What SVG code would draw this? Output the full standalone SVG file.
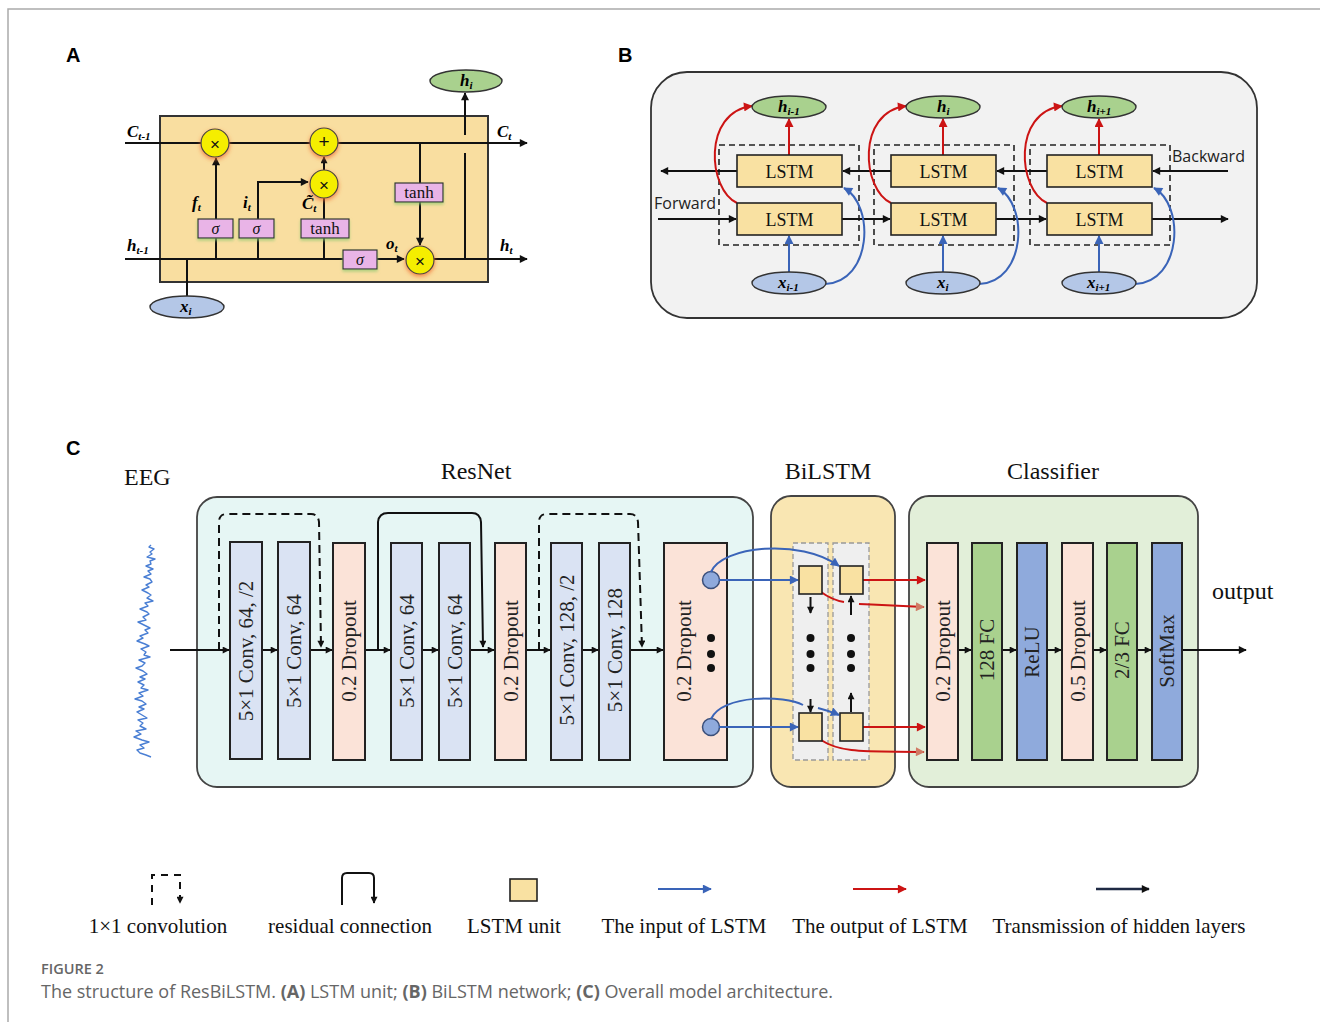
<svg xmlns="http://www.w3.org/2000/svg" width="1320" height="1025" viewBox="0 0 1320 1025">
<defs>
<style>
.lbl{font-family:"Liberation Sans",Arial,sans-serif;font-weight:bold;font-size:20px;fill:#000}
.bi{font-family:"Liberation Serif","Times New Roman",serif;font-weight:bold;font-style:italic;font-size:17px;fill:#000}
.ser{font-family:"Liberation Serif","Times New Roman",serif;fill:#111}
.cen{text-anchor:middle;dominant-baseline:central}
.ln{fill:none;stroke:#111;stroke-width:2}
.red{fill:none;stroke:#cc1414;stroke-width:2}
.blue{fill:none;stroke:#3a64b8;stroke-width:2}
.pink{fill:#e9b4e7;stroke:#333;stroke-width:1.2}
.gate{fill:#f5ee05;stroke:#444;stroke-width:1.2}
.lstm{fill:#f9e1a2;stroke:#222;stroke-width:1.6}
.hell{fill:#a9d18e;stroke:#333;stroke-width:1.4}
.xell{fill:#b4c7e7;stroke:#333;stroke-width:1.4}
.dash{fill:none;stroke:#222;stroke-width:1.6;stroke-dasharray:6,4}
.col{stroke:#222;stroke-width:2}
.conv{fill:#dae3f3}
.drop{fill:#fbe3d8}
.fc{fill:#a9d18e}
.act{fill:#8faadc}
.ctx{font-family:"Liberation Serif","Times New Roman",serif;font-size:21px;fill:#222;text-anchor:middle;dominant-baseline:central}
.ttl{font-family:"Liberation Serif","Times New Roman",serif;font-size:24px;fill:#111}
.leg{font-family:"Liberation Serif","Times New Roman",serif;font-size:21px;fill:#111;text-anchor:middle}
.os{font-family:"Open Sans","Noto Sans",sans-serif;font-size:16px;fill:#222}
</style>
<marker id="ah" viewBox="0 0 10 10" refX="9" refY="5" markerWidth="9" markerHeight="8" markerUnits="userSpaceOnUse" orient="auto"><path d="M0,0 L10,5 L0,10 z" fill="#111"/></marker>
<marker id="ahs" viewBox="0 0 10 10" refX="9" refY="5" markerWidth="8" markerHeight="7" markerUnits="userSpaceOnUse" orient="auto"><path d="M0,0 L10,5 L0,10 z" fill="#111"/></marker>
<marker id="ahr" viewBox="0 0 10 10" refX="9" refY="5" markerWidth="10" markerHeight="9" markerUnits="userSpaceOnUse" orient="auto"><path d="M0,0 L10,5 L0,10 z" fill="#cc1414"/></marker>
<marker id="ahb" viewBox="0 0 10 10" refX="9" refY="5" markerWidth="10" markerHeight="9" markerUnits="userSpaceOnUse" orient="auto"><path d="M0,0 L10,5 L0,10 z" fill="#3a64b8"/></marker>
<marker id="ahp" viewBox="0 0 10 10" refX="9" refY="5" markerWidth="10" markerHeight="9" markerUnits="userSpaceOnUse" orient="auto"><path d="M0,0 L10,5 L0,10 z" fill="#d07a64"/></marker>
<filter id="glow" x="-50%" y="-50%" width="200%" height="200%"><feDropShadow dx="0" dy="2" stdDeviation="2" flood-color="#f07030" flood-opacity="0.8"/></filter>
<filter id="gsh" x="-30%" y="-50%" width="160%" height="200%"><feDropShadow dx="0" dy="2" stdDeviation="1.5" flood-color="#8cc870" flood-opacity="0.7"/></filter>
</defs>
<rect width="1320" height="1025" fill="#fff"/>
<path d="M8,1022 V9 H1320" fill="none" stroke="#aaa" stroke-width="1.5"/>

<!-- panel labels -->
<text class="lbl" x="66" y="62">A</text>
<text class="lbl" x="618" y="62">B</text>
<text class="lbl" x="66" y="455">C</text>

<!-- ================= PANEL A ================= -->
<g id="A-cell"><rect x="160" y="116" width="328" height="166" fill="#f9dea0" stroke="#333" stroke-width="2"/></g>
<g id="A-connectors">
<path class="ln" d="M125,143 H527" marker-end="url(#ah)"/>
<path class="ln" d="M125,259 H343"/>
<path class="ln" d="M377,259 H404" marker-end="url(#ah)"/>
<path class="ln" d="M434,259 H527" marker-end="url(#ah)"/>
<path class="ln" d="M187,296 V259"/>
<path class="ln" d="M216,259 V158" marker-end="url(#ah)"/>
<path class="ln" d="M258,259 V182 H308" marker-end="url(#ah)"/>
<path class="ln" d="M324,259 V198"/>
<path class="ln" d="M324,170 V157" marker-end="url(#ahs)"/>
<path class="ln" d="M420,143 V183"/>
<path class="ln" d="M420,202 V245" marker-end="url(#ah)"/>
<path class="ln" d="M465,259 V153"/>
<path class="ln" d="M465,135 V93" marker-end="url(#ah)"/>
</g>
<g id="A-gates">
<circle class="gate" cx="215" cy="143" r="14" filter="url(#glow)"/>
<circle class="gate" cx="324" cy="142" r="14" filter="url(#glow)"/>
<circle class="gate" cx="324" cy="184" r="14" filter="url(#glow)"/>
<circle class="gate" cx="420" cy="260" r="14" filter="url(#glow)"/>
<text class="cen" x="215" y="144" font-family="Liberation Sans,Arial,sans-serif" font-size="17" fill="#111">×</text>
<text class="cen" x="324" y="141" font-family="Liberation Sans,Arial,sans-serif" font-size="19" fill="#111">+</text>
<text class="cen" x="324" y="185" font-family="Liberation Sans,Arial,sans-serif" font-size="17" fill="#111">×</text>
<text class="cen" x="420" y="261" font-family="Liberation Sans,Arial,sans-serif" font-size="17" fill="#111">×</text>
</g>
<g id="A-boxes">
<rect class="pink" x="198" y="219" width="35" height="19" filter="url(#gsh)"/>
<rect class="pink" x="239" y="219" width="35" height="19" filter="url(#gsh)"/>
<rect class="pink" x="301" y="219" width="48" height="19" filter="url(#gsh)"/>
<rect class="pink" x="343" y="250" width="34" height="19" filter="url(#gsh)"/>
<rect class="pink" x="395" y="183" width="48" height="19" filter="url(#gsh)"/>
<text class="ser cen" x="215.5" y="228" font-size="16" font-style="italic">σ</text>
<text class="ser cen" x="256.5" y="228" font-size="16" font-style="italic">σ</text>
<text class="ser cen" x="325" y="228" font-size="17">tanh</text>
<text class="ser cen" x="360" y="259" font-size="16" font-style="italic">σ</text>
<text class="ser cen" x="419" y="192" font-size="17">tanh</text>
</g>
<g id="A-hi"><ellipse class="hell" cx="466" cy="81" rx="36" ry="11"/><text class="bi" x="460" y="86">h<tspan font-size="11" dy="3">i</tspan></text></g>
<g id="A-xi"><ellipse class="xell" cx="187" cy="307" rx="37" ry="11"/><text class="bi" x="180" y="312">x<tspan font-size="11" dy="3">i</tspan></text></g>
<g id="A-labels">
<text class="bi" x="127" y="137">C<tspan font-size="11" dy="3">t-1</tspan></text>
<text class="bi" x="497" y="137">C<tspan font-size="11" dy="3">t</tspan></text>
<text class="bi" x="127" y="251">h<tspan font-size="11" dy="3">t-1</tspan></text>
<text class="bi" x="500" y="251">h<tspan font-size="11" dy="3">t</tspan></text>
<text class="bi" x="192" y="208">f<tspan font-size="11" dy="3">t</tspan></text>
<text class="bi" x="243" y="208">i<tspan font-size="11" dy="3">t</tspan></text>
<text class="bi" x="302" y="209">C̃<tspan font-size="11" dy="3">t</tspan></text>
<text class="bi" x="386" y="249">o<tspan font-size="11" dy="3">t</tspan></text>
</g>

<!-- ================= PANEL B ================= -->
<g id="B-frame"><rect x="651" y="72" width="606" height="246" rx="36" fill="#f2f2f2" stroke="#333" stroke-width="1.8"/></g>
<g id="B-groups">
<rect class="dash" x="719" y="145" width="140" height="100"/>
<rect class="dash" x="874" y="145" width="140" height="100"/>
<rect class="dash" x="1030" y="145" width="140" height="100"/>
</g>
<g id="B-connectors">
<path class="ln" d="M1228,171 H1153" marker-end="url(#ah)"/>
<path class="ln" d="M1047,171 H997" marker-end="url(#ah)"/>
<path class="ln" d="M891,171 H843" marker-end="url(#ah)"/>
<path class="ln" d="M737,171 H661" marker-end="url(#ah)"/>
<path class="ln" d="M658,219 H736" marker-end="url(#ah)"/>
<path class="ln" d="M842,219 H890" marker-end="url(#ah)"/>
<path class="ln" d="M996,219 H1046" marker-end="url(#ah)"/>
<path class="ln" d="M1152,219 H1228" marker-end="url(#ah)"/>
<path class="red" d="M789,155 V119" marker-end="url(#ahr)"/>
<path class="red" d="M943,155 V119" marker-end="url(#ahr)"/>
<path class="red" d="M1099,155 V119" marker-end="url(#ahr)"/>
<path class="blue" d="M789,272 V236" marker-end="url(#ahb)"/>
<path class="blue" d="M943,272 V236" marker-end="url(#ahb)"/>
<path class="blue" d="M1099,272 V236" marker-end="url(#ahb)"/>
<path class="red" d="M737,203 C708,190 702,112 752,106" marker-end="url(#ahr)"/>
<path class="red" d="M891,203 C862,190 856,112 906,106" marker-end="url(#ahr)"/>
<path class="red" d="M1047,203 C1018,190 1012,112 1062,106" marker-end="url(#ahr)"/>
<path class="blue" d="M825,284 C872,282 875,205 844,188" marker-end="url(#ahb)"/>
<path class="blue" d="M979,284 C1026,282 1029,205 998,188" marker-end="url(#ahb)"/>
<path class="blue" d="M1135,284 C1182,282 1185,205 1154,188" marker-end="url(#ahb)"/>
</g>
<g id="B-lstm-top">
<rect class="lstm" x="737" y="155" width="105" height="32"/><text class="ser cen" x="789.5" y="172" font-size="18">LSTM</text>
<rect class="lstm" x="891" y="155" width="105" height="32"/><text class="ser cen" x="943.5" y="172" font-size="18">LSTM</text>
<rect class="lstm" x="1047" y="155" width="105" height="32"/><text class="ser cen" x="1099.5" y="172" font-size="18">LSTM</text>
</g>
<g id="B-lstm-bottom">
<rect class="lstm" x="737" y="203" width="105" height="32"/><text class="ser cen" x="789.5" y="220" font-size="18">LSTM</text>
<rect class="lstm" x="891" y="203" width="105" height="32"/><text class="ser cen" x="943.5" y="220" font-size="18">LSTM</text>
<rect class="lstm" x="1047" y="203" width="105" height="32"/><text class="ser cen" x="1099.5" y="220" font-size="18">LSTM</text>
</g>
<g id="B-h">
<ellipse class="hell" cx="789" cy="107" rx="37" ry="11"/><text class="bi" x="778" y="112">h<tspan font-size="11" dy="3">i-1</tspan></text>
<ellipse class="hell" cx="943" cy="107" rx="37" ry="11"/><text class="bi" x="937" y="112">h<tspan font-size="11" dy="3">i</tspan></text>
<ellipse class="hell" cx="1099" cy="107" rx="37" ry="11"/><text class="bi" x="1087" y="112">h<tspan font-size="11" dy="3">i+1</tspan></text>
</g>
<g id="B-x">
<ellipse class="xell" cx="789" cy="283" rx="37" ry="11"/><text class="bi" x="778" y="288">x<tspan font-size="11" dy="3">i-1</tspan></text>
<ellipse class="xell" cx="943" cy="283" rx="37" ry="11"/><text class="bi" x="937" y="288">x<tspan font-size="11" dy="3">i</tspan></text>
<ellipse class="xell" cx="1099" cy="283" rx="37" ry="11"/><text class="bi" x="1087" y="288">x<tspan font-size="11" dy="3">i+1</tspan></text>
</g>
<text class="os" x="1172" y="162">Backward</text>
<text class="os" x="654" y="209">Forward</text>

<!-- ================= PANEL C ================= -->
<text class="ttl" x="124" y="485">EEG</text>
<text class="ttl" x="476" y="479" text-anchor="middle">ResNet</text>
<text class="ttl" x="828" y="479" text-anchor="middle">BiLSTM</text>
<text class="ttl" x="1053" y="479" text-anchor="middle">Classifier</text>
<text class="ttl" x="1212" y="599">output</text>

<g id="C-eeg"><polyline fill="none" stroke="#4a7fd4" stroke-width="1.4" stroke-linejoin="round" points="151,545 149,547 154,549 150,552 152,554 147,557 155,559 150,561 151,564 146,566 153,569 148,571 151,574 144,577 150,579 152,582 146,585 149,587 142,590 148,593 151,595 147,598 153,601 145,603 148,606 140,609 147,612 149,614 143,617 146,620 138,622 144,625 150,628 145,630 148,633 140,636 143,638 137,641 145,644 149,646 141,649 146,652 144,655 150,657 139,660 145,663 142,666 136,668 143,671 147,674 140,677 145,679 138,682 144,685 141,688 148,690 139,693 143,696 135,699 142,701 146,704 139,707 144,709 137,712 142,715 147,718 138,720 143,723 140,726 146,729 136,731 141,734 134,737 142,740 149,742 140,745 144,748 137,750 140,753 146,755 151,757"/></g>

<g id="C-resnet-box"><rect x="197" y="497" width="556" height="290" rx="20" fill="#e6f6f4" stroke="#444" stroke-width="1.8"/></g>
<g id="C-bilstm-box"><rect x="771" y="496" width="124" height="291" rx="20" fill="#f9e6b2" stroke="#444" stroke-width="1.8"/></g>
<g id="C-classifier-box"><rect x="909" y="496" width="289" height="291" rx="20" fill="#e2efd9" stroke="#444" stroke-width="1.8"/></g>

<g id="C-connectors">
<path class="ln" d="M170,650 H229" marker-end="url(#ahs)"/>
<path class="ln" d="M262,650 H277" marker-end="url(#ahs)"/>
<path class="ln" d="M310,650 H332" marker-end="url(#ahs)"/>
<path class="ln" d="M365,650 H390" marker-end="url(#ahs)"/>
<path class="ln" d="M422,650 H438" marker-end="url(#ahs)"/>
<path class="ln" d="M470,650 H494" marker-end="url(#ahs)"/>
<path class="ln" d="M526,650 H550" marker-end="url(#ahs)"/>
<path class="ln" d="M582,650 H598" marker-end="url(#ahs)"/>
<path class="ln" d="M630,650 H663" marker-end="url(#ahs)"/>
<path class="ln" d="M958,650 H971" marker-end="url(#ahs)"/>
<path class="ln" d="M1002,650 H1016" marker-end="url(#ahs)"/>
<path class="ln" d="M1047,650 H1061" marker-end="url(#ahs)"/>
<path class="ln" d="M1093,650 H1106" marker-end="url(#ahs)"/>
<path class="ln" d="M1137,650 H1151" marker-end="url(#ahs)"/>
<path class="ln" d="M1182,650 H1246" marker-end="url(#ah)"/>
<path class="ln" d="M219,650 V522 Q219,514 227,514 H311 Q318,514 319,522 L321,647" stroke-dasharray="8,5" marker-end="url(#ahs)"/>
<path class="ln" d="M378,650 V522 Q379,513 388,513 H472 Q480,513 481,522 L483,647" stroke-width="2.3" marker-end="url(#ahs)"/>
<path class="ln" d="M539,650 V522 Q539,514 547,514 H630 Q637,514 638,522 L642,647" stroke-dasharray="8,5" marker-end="url(#ahs)"/>
</g>

<g id="C-resnet-layers">
<rect class="col conv" x="230" y="542" width="32" height="217"/><text class="ctx" transform="translate(246,651) rotate(-90)">5×1 Conv, 64, /2</text>
<rect class="col conv" x="278" y="542" width="32" height="217"/><text class="ctx" transform="translate(294,651) rotate(-90)">5×1 Conv, 64</text>
<rect class="col drop" x="333" y="543" width="32" height="217"/><text class="ctx" transform="translate(349,651) rotate(-90)">0.2 Dropout</text>
<rect class="col conv" x="391" y="543" width="31" height="217"/><text class="ctx" transform="translate(406.5,651) rotate(-90)">5×1 Conv, 64</text>
<rect class="col conv" x="439" y="543" width="31" height="217"/><text class="ctx" transform="translate(454.5,651) rotate(-90)">5×1 Conv, 64</text>
<rect class="col drop" x="495" y="543" width="31" height="217"/><text class="ctx" transform="translate(510.5,651) rotate(-90)">0.2 Dropout</text>
<rect class="col conv" x="551" y="543" width="31" height="217"/><text class="ctx" transform="translate(566.5,650) rotate(-90)">5×1 Conv, 128, /2</text>
<rect class="col conv" x="599" y="543" width="31" height="217"/><text class="ctx" transform="translate(614.5,650) rotate(-90)">5×1 Conv, 128</text>
<rect class="col drop" x="664" y="543" width="63" height="217"/><text class="ctx" transform="translate(684,651) rotate(-90)">0.2 Dropout</text>
<circle cx="711" cy="638" r="4" fill="#111"/><circle cx="711" cy="654" r="4" fill="#111"/><circle cx="711" cy="668" r="4" fill="#111"/>
<circle cx="711" cy="580" r="8.5" fill="#8faadc" stroke="#3a4f7a" stroke-width="1.5"/>
<circle cx="711" cy="727" r="8.5" fill="#8faadc" stroke="#3a4f7a" stroke-width="1.5"/>
</g>

<g id="C-bilstm-layers">
<rect x="793" y="543" width="35" height="217" fill="#efefef" stroke="#999" stroke-width="1.3" stroke-dasharray="5,3"/>
<rect x="833" y="543" width="36" height="217" fill="#efefef" stroke="#999" stroke-width="1.3" stroke-dasharray="5,3"/>
<circle cx="810.5" cy="638" r="4" fill="#111"/><circle cx="810.5" cy="654" r="4" fill="#111"/><circle cx="810.5" cy="668" r="4" fill="#111"/>
<circle cx="851" cy="638" r="4" fill="#111"/><circle cx="851" cy="654" r="4" fill="#111"/><circle cx="851" cy="668" r="4" fill="#111"/>
</g>
<g id="C-bilstm-connectors">
<path class="ln" d="M810.5,597 V613" stroke-width="1.5" marker-end="url(#ahs)"/>
<path class="ln" d="M851,615 V596" stroke-width="1.5" marker-end="url(#ahs)"/>
<path class="ln" d="M810.5,699 V712" stroke-width="1.5" marker-end="url(#ahs)"/>
<path class="ln" d="M851,712 V693" stroke-width="1.5" marker-end="url(#ahs)"/>
<path class="blue" d="M719,580 H798" marker-end="url(#ahb)"/>
<path class="blue" d="M719,727 H798" marker-end="url(#ahb)"/>
<path class="blue" d="M711,572 C722,546 800,538 839,566" marker-end="url(#ahb)"/>
<path class="blue" d="M711,719 C722,694 785,695 803,705"/>
<path class="blue" d="M818,708 C826,710 832,712 839,715" marker-end="url(#ahb)"/>
<path class="red" d="M862,580 H925" marker-end="url(#ahr)"/>
<path class="red" d="M862,727 H925" marker-end="url(#ahr)"/>
<path class="red" d="M821,592 Q832,600 844,602"/>
<path class="red" d="M859,604 C880,605 900,606 924,607" marker-end="url(#ahp)"/>
<path class="red" d="M821,740 C842,754 870,751 924,752" marker-end="url(#ahp)"/>
</g>
<g id="C-lstm-units">
<rect class="lstm" x="799" y="566" width="23" height="28"/>
<rect class="lstm" x="840" y="566" width="23" height="28"/>
<rect class="lstm" x="799" y="713" width="23" height="28"/>
<rect class="lstm" x="840" y="713" width="23" height="28"/>
</g>

<g id="C-classifier-layers">
<rect class="col drop" x="927" y="543" width="31" height="217"/><text class="ctx" transform="translate(942.5,651) rotate(-90)">0.2 Dropout</text>
<rect class="col fc" x="972" y="543" width="30" height="217"/><text class="ctx" transform="translate(987,650) rotate(-90)">128 FC</text>
<rect class="col act" x="1017" y="543" width="30" height="217"/><text class="ctx" transform="translate(1032,652) rotate(-90)">ReLU</text>
<rect class="col drop" x="1062" y="543" width="31" height="217"/><text class="ctx" transform="translate(1077.5,651) rotate(-90)">0.5 Dropout</text>
<rect class="col fc" x="1107" y="543" width="30" height="217"/><text class="ctx" transform="translate(1122,650) rotate(-90)">2/3 FC</text>
<rect class="col act" x="1152" y="543" width="30" height="217"/><text class="ctx" transform="translate(1167,651) rotate(-90)">SoftMax</text>
</g>

<!-- ================= LEGEND ================= -->
<g id="legend">
<path class="ln" d="M152,905 V875 H180 V903" stroke-dasharray="7,6" marker-end="url(#ahs)"/>
<path class="ln" d="M342,905 V878 Q342,873 347,873 H369 Q374,873 374,878 V903" stroke-width="2.3" marker-end="url(#ahs)"/>
<rect class="lstm" x="510" y="879" width="27" height="22"/>
<path class="blue" d="M658,889 H711" stroke-width="2.5" marker-end="url(#ahb)"/>
<path class="red" d="M853,889 H906" stroke-width="2.5" marker-end="url(#ahr)"/>
<path d="M1096,889 H1149" fill="none" stroke="#1f2a44" stroke-width="2.5" marker-end="url(#ah)"/>
<text class="leg" x="158" y="933">1×1 convolution</text>
<text class="leg" x="350" y="933">residual connection</text>
<text class="leg" x="514" y="933">LSTM unit</text>
<text class="leg" x="684" y="933">The input of LSTM</text>
<text class="leg" x="880" y="933">The output of LSTM</text>
<text class="leg" x="1119" y="933">Transmission of hidden layers</text>
</g>

<!-- ================= CAPTION ================= -->
<text x="41" y="974" font-family="Open Sans,Noto Sans,sans-serif" font-size="14.5" font-weight="600" fill="#666">FIGURE 2</text>
<text x="41" y="998" font-family="Open Sans,Noto Sans,sans-serif" font-size="18" fill="#666">The structure of ResBiLSTM. <tspan font-weight="bold">(A)</tspan> LSTM unit; <tspan font-weight="bold">(B)</tspan> BiLSTM network; <tspan font-weight="bold">(C)</tspan> Overall model architecture.</text>
</svg>
